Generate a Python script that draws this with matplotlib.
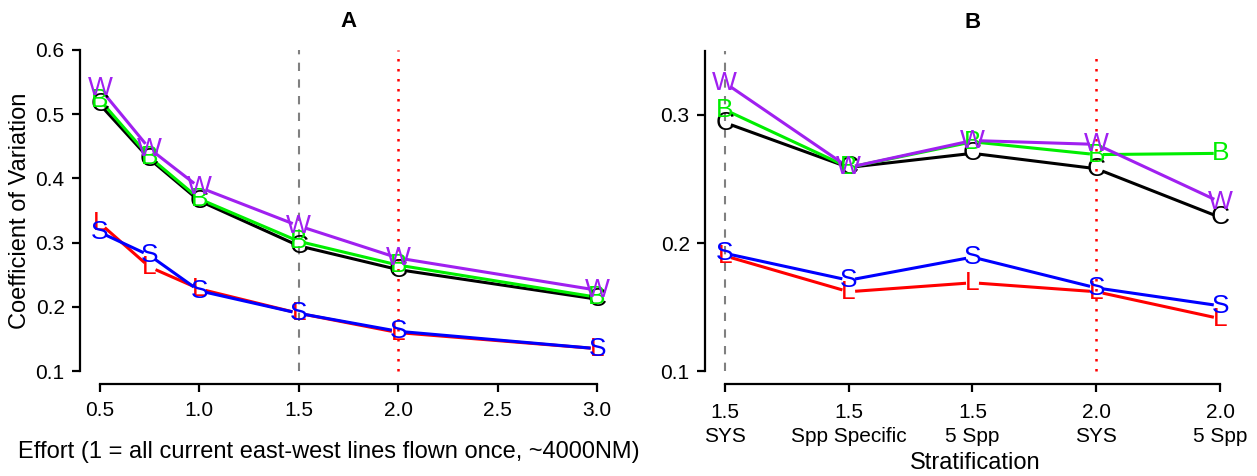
import numpy as np
import matplotlib
matplotlib.use("Agg")
import matplotlib.pyplot as plt

plt.rcParams["font.family"] = ["Liberation Sans", "DejaVu Sans"]

# Panel A: CV against survey effort
EFFORT = [0.5, 0.75, 1.0, 1.5, 2.0, 3.0]
EFFORT_TICKS = [0.5, 1.0, 1.5, 2.0, 2.5, 3.0]
A_C = [0.515, 0.430, 0.365, 0.295, 0.258, 0.212]
A_B = [0.522, 0.433, 0.368, 0.302, 0.265, 0.215]
A_W = [0.540, 0.446, 0.386, 0.326, 0.276, 0.226]
A_L = [0.330, 0.262, 0.228, 0.190, 0.160, 0.135]
A_S = [0.316, 0.280, 0.225, 0.190, 0.162, 0.135]

# Panel B: CV against stratification scheme
STRAT_EFFORT = ["1.5", "1.5", "1.5", "2.0", "2.0"]
STRAT_NAMES = ["SYS", "Spp Specific", "5 Spp", "SYS", "5 Spp"]
B_C = [0.294, 0.259, 0.270, 0.258, 0.220]
B_B = [0.304, 0.259, 0.279, 0.269, 0.270]
B_W = [0.325, 0.259, 0.280, 0.277, 0.232]
B_L = [0.190, 0.162, 0.169, 0.162, 0.141]
B_S = [0.192, 0.171, 0.189, 0.165, 0.151]

SERIES = [
    ("C", "black"),
    ("B", "#00ee00"),
    ("W", "#a020f0"),
    ("L", "#ff0000"),
    ("S", "#0000ff"),
]
GAP_PX = 8  # like R type="b": line stops short of each letter
W, H = 1257, 476


def draw_series(ax, x, ys):
    to_px = ax.transData
    to_data = ax.transData.inverted()
    for (letter, color), y in zip(SERIES, ys):
        pts = to_px.transform(np.column_stack([x, y]))
        segs = []
        for p0, p1 in zip(pts[:-1], pts[1:]):
            d = p1 - p0
            n = np.hypot(*d)
            if n <= 2 * GAP_PX:
                continue
            u = d / n
            segs.append(p0 + u * GAP_PX)
            segs.append(p1 - u * GAP_PX)
            segs.append([np.nan, np.nan])
        segs = to_data.transform(np.array(segs))
        ax.plot(segs[:, 0], segs[:, 1], color=color, lw=2.2, zorder=3)
        for xi, yi in zip(x, y):
            ax.text(xi, yi, letter, color=color, fontsize=19,
                    ha="center", va="center", zorder=4)


def style_axes(ax, xb, yb, pad=5):
    for side in ["top", "right"]:
        ax.spines[side].set_visible(False)
    ax.spines["left"].set_bounds(*yb)
    ax.spines["bottom"].set_bounds(*xb)
    for side in ["left", "bottom"]:
        ax.spines[side].set_linewidth(1.6)
    ax.tick_params(length=6, width=1.6, labelsize=15, pad=5)
    ax.tick_params(axis="x", pad=pad)


fig = plt.figure(figsize=(W / 100, H / 100), dpi=100)

# ---- A ----
axA = fig.add_axes([80 / W, 92 / H, 537 / W, 347 / H])
axA.set_xlim(0.4, 3.1)
axA.set_ylim(0.08, 0.62)
draw_series(axA, EFFORT, [A_C, A_B, A_W, A_L, A_S])
axA.vlines(1.5, 0.1, 0.6, colors="#808080", linestyles=(0, (4, 4)), lw=1.5)
axA.vlines(2.0, 0.1, 0.6, colors="red", linestyles=(0, (1, 3)), lw=1.8)
axA.set_xticks(EFFORT_TICKS)
axA.set_xticklabels([f"{t:.1f}" for t in EFFORT_TICKS])
axA.set_yticks([0.1, 0.2, 0.3, 0.4, 0.5, 0.6])
style_axes(axA, (0.5, 3.0), (0.1, 0.6), pad=6)
axA.set_title("A", fontsize=16, fontweight="bold", pad=7)
fig.text(20 / W, 1 - 211 / H, "Coefficient of Variation", fontsize=17,
         rotation=90, ha="center", va="center")
fig.text(329 / W, 1 - 452 / H,
         "Effort (1 = all current east-west lines flown once, ~4000NM)",
         fontsize=17, ha="center", va="center")

# ---- B ----
axB = fig.add_axes([705 / W, 92 / H, 535 / W, 346 / H])
xs = np.arange(1, 6)
axB.set_xlim(0.84, 5.16)
axB.set_ylim(0.09, 0.36)
draw_series(axB, xs, [B_C, B_B, B_W, B_L, B_S])
axB.vlines(1, 0.1, 0.35, colors="#808080", linestyles=(0, (4, 4)), lw=1.5)
axB.vlines(4, 0.1, 0.35, colors="red", linestyles=(0, (1, 3)), lw=1.8)
axB.set_xticks(xs)
axB.set_xticklabels([f"{e}\n{n}" for e, n in zip(STRAT_EFFORT, STRAT_NAMES)],
                    linespacing=1.3)
axB.set_yticks([0.1, 0.2, 0.3])
style_axes(axB, (1, 5), (0.1, 0.35), pad=8)
axB.set_title("B", fontsize=16, fontweight="bold", pad=7)
fig.text(975 / W, 1 - 463 / H, "Stratification", fontsize=17,
         ha="center", va="center")

fig.savefig("out.png", dpi=100)
